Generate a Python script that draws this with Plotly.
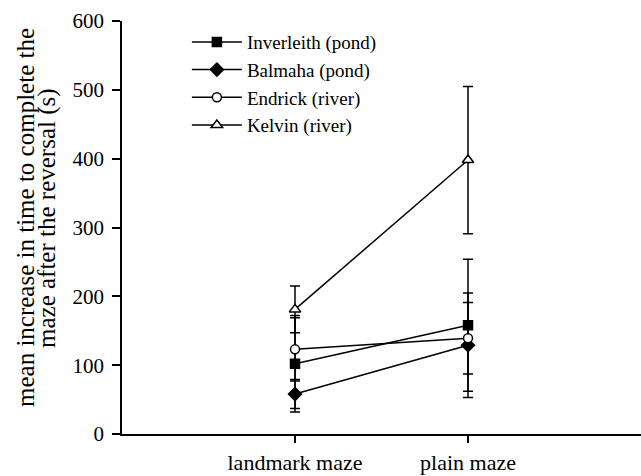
import plotly.graph_objects as go

categories = ["landmark maze", "plain maze"]
series_names = ["Inverleith (pond)", "Balmaha (pond)", "Endrick (river)", "Kelvin (river)"]
inverleith = [102, 158]
inverleith_err = [70, 96]
balmaha = [58, 129]
balmaha_err = [21, 76]
endrick = [123, 139]
endrick_err = [46, 52]
kelvin = [181, 398]
kelvin_err = [34, 107]
y_ticks = [0, 100, 200, 300, 400, 500, 600]

FONT = "Liberation Serif, Times New Roman, serif"

styles = [
    dict(symbol="square", color="black", size=9),
    dict(symbol="diamond", color="black", size=10),
    dict(symbol="circle", color="white", size=9),
    dict(symbol="triangle-up", color="white", size=10),
]
values = [inverleith, balmaha, endrick, kelvin]
errors = [inverleith_err, balmaha_err, endrick_err, kelvin_err]

fig = go.Figure()
for name, vals, errs, st in zip(series_names, values, errors, styles):
    fig.add_trace(go.Scatter(
        x=categories, y=vals, name=name, mode="lines+markers",
        line=dict(color="black", width=1.5),
        marker=dict(symbol=st["symbol"], color=st["color"], size=st["size"],
                    line=dict(color="black", width=1.5)),
        error_y=dict(type="data", array=errs, visible=True, color="black",
                     thickness=1.5, width=5),
    ))

fig.update_layout(
    width=641, height=476,
    margin=dict(l=122, r=0, t=21, b=42, autoexpand=False),
    paper_bgcolor="white", plot_bgcolor="white",
    font=dict(family=FONT, color="black", size=20),
    showlegend=True,
    legend=dict(x=0.125, y=0.995, xanchor="left", yanchor="top",
                font=dict(family=FONT, size=19, color="black"),
                bgcolor="rgba(0,0,0,0)", itemwidth=50, tracegroupgap=0),
    xaxis=dict(type="category", range=[-1, 2], showgrid=False, zeroline=False,
               showline=True, linecolor="black", linewidth=1.5,
               ticks="outside", ticklen=7, tickwidth=1.5, tickcolor="black",
               ticklabelstandoff=1, automargin=False,
               tickfont=dict(family=FONT, size=22, color="black")),
    yaxis=dict(range=[0, 600], tickvals=y_ticks, showgrid=False, zeroline=False,
               showline=True, linecolor="black", linewidth=1.5,
               ticks="outside", ticklen=8, tickwidth=1.5, tickcolor="black",
               ticklabelstandoff=4, automargin=False,
               tickfont=dict(family=FONT, size=21, color="black")),
)

title_lines = ["mean increase in time to complete the", "maze after the reversal (s)"]
for line, shift in zip(title_lines, [-97, -75]):
    fig.add_annotation(text=line, xref="paper", yref="paper", x=0, y=0.523,
                       xanchor="center", yanchor="middle", xshift=shift,
                       textangle=-90, showarrow=False,
                       font=dict(family=FONT, size=25, color="black"))

fig.write_html(
    "out.html",
    config={"displayModeBar": False},
    post_script="document.body.style.margin='0';document.body.style.overflow='hidden';",
)
